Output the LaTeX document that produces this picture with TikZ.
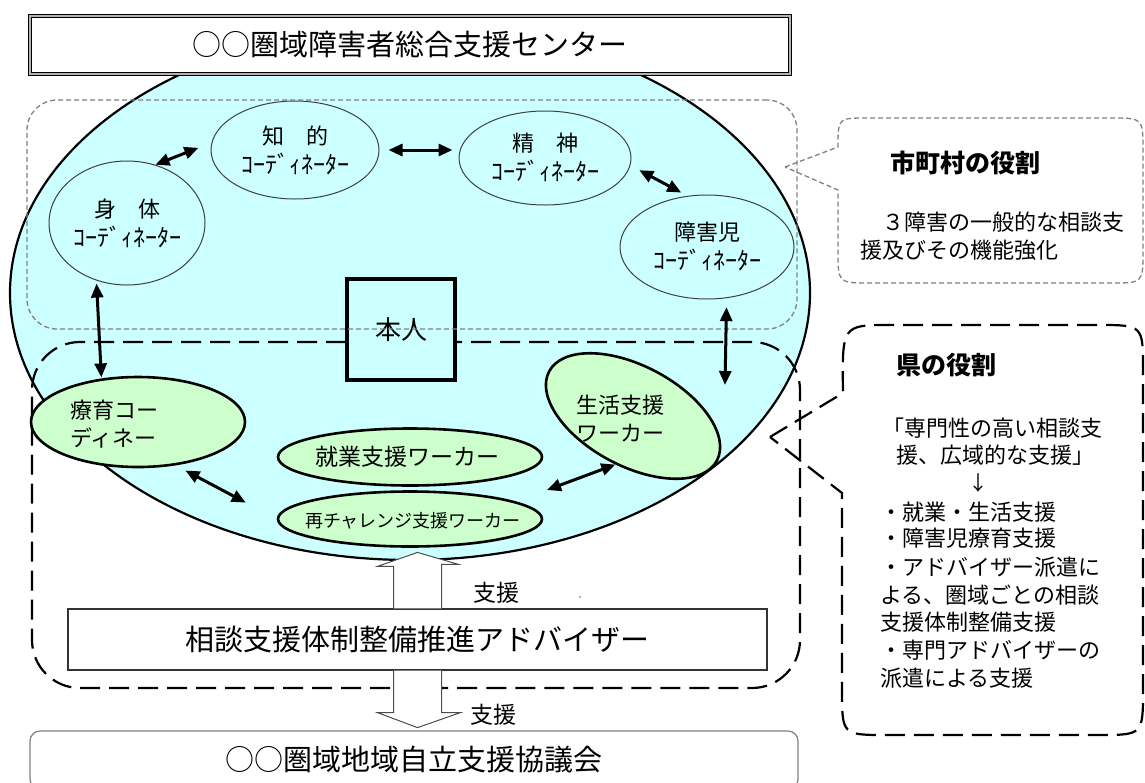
\documentclass[tikz,border=0pt]{standalone}
\usepackage{fontspec}
\setmainfont{Noto Sans CJK JP}
\usetikzlibrary{arrows.meta,shapes.geometric,calc}
\definecolor{bgcyan}{HTML}{CCFFFF}
\definecolor{lgreen}{HTML}{CCFFCC}
\definecolor{dgray}{HTML}{808080}
\newcommand{\jsz}[2]{\fontsize{#1pt}{#2pt}\selectfont}
\newcommand{\kata}{{\jsz{24}{29}ｺｰﾃﾞｨﾈｰﾀｰ}}
\begin{document}
\begin{tikzpicture}[x=1pt,y=-1pt,
  coordell/.style={ellipse, draw=black!75, line width=1pt, fill=bgcyan, inner sep=0pt, align=center, font=\jsz{22}{29}},
  greenell/.style={ellipse, draw=black, line width=2.6pt, fill=lgreen, inner sep=0pt},
  txt/.style={inner sep=0pt, font=\jsz{22}{28}},
  boldtxt/.style={inner sep=0pt, font=\jsz{25}{25}\bfseries},
  dblarrow/.style={{Triangle[length=14pt,width=12pt]}-{Triangle[length=14pt,width=12pt]}, line width=3pt},
  graydash/.style={draw=dgray, line width=1.3pt, dash pattern=on 5pt off 3pt},
  blackdash/.style={draw=black, line width=2.2pt, dash pattern=on 20pt off 9pt},
  blockarrow/.style={draw=black!70, line width=1pt, fill=white, line join=miter},
]
\useasboundingbox (0,0) rectangle (1145,782);

% central hub ellipse
\node[ellipse, draw=black, line width=2.2pt, fill=bgcyan, minimum width=800pt, minimum height=534pt, inner sep=0pt] (hub) at (410,293) {};

% title
\node[draw=black, double=dgray!60, double distance=1.5pt, line width=0.9pt, fill=white,
      minimum width=760pt, minimum height=58pt, inner sep=0pt, font=\jsz{29}{29}] (title) at (410,45) {○○圏域障害者総合支援センター};

% coordinators
\node[coordell, minimum width=168pt, minimum height=98pt] (chiteki) at (295,150) {知　的\\\kata};
\node[coordell, minimum width=156pt, minimum height=124pt] (shintai) at (127,223) {身　体\\\kata};
\node[coordell, minimum width=172pt, minimum height=94pt] (seishin) at (545,158) {精　神\\\kata};
\node[coordell, minimum width=174pt, minimum height=104pt] (shogaiji) at (707,247) {障害児\\\kata};

% prefecture zone (black dashed)
\node[blackdash, rounded corners=48pt, minimum width=768pt, minimum height=346pt, inner sep=0pt] (prefzone) at (416,515) {};

% person box
\node[draw=black, line width=4pt, fill=bgcyan, minimum width=108pt, minimum height=101pt, inner sep=0pt, font=\jsz{26}{26}] (honnin) at (401,329.5) {本人};

% municipal zone (gray dashed)
\node[graydash, rounded corners=30pt, minimum width=770pt, minimum height=229pt, inner sep=0pt] (cityzone) at (412,214.5) {};

% green workers
\node[greenell, minimum width=214pt, minimum height=90pt] (ryoiku) at (138,422) {};
\node[txt, anchor=west, align=left] (ryoikut) at (70,424) {療育コー\\ディネー};
\node[greenell, minimum width=264pt, minimum height=57pt] (shugyo) at (410,457) {};
\node[txt, font=\jsz{23}{23}] (shugyot) at (407,457) {就業支援ワーカー};
\node[greenell, minimum width=264pt, minimum height=55pt] (saichallenge) at (410,519) {};
\node[txt, font=\jsz{18}{18}] (saichallenget) at (413,521) {再チャレンジ支援ワーカー};
\node[greenell, minimum width=190pt, minimum height=100pt, rotate=-28] (seikatsu) at (633,416) {};
\node[txt, anchor=west, align=left] (seikatsut) at (576,419) {生活支援\\ワーカー};

% double arrows
\coordinate (e5) at (725,385);
\coordinate (s7) at (547,490);
\draw[dblarrow, shorten >=14pt] (shintai.64) -- (chiteki.175);
\draw[dblarrow, shorten <=9pt, shorten >=6pt] (chiteki.east) -- (chiteki.east -| seishin.west);
\draw[dblarrow, shorten <=10pt, shorten >=7pt] (seishin.355) -- (shogaiji.111);
\draw[dblarrow, shorten <=3pt, shorten >=1pt] (shintai.242) -- (ryoiku.130);
\draw[dblarrow, shorten <=9pt] (shogaiji.291) -- (e5);
\draw[dblarrow, shorten <=11pt, shorten >=35pt] (ryoiku.311) -- (saichallenge.180);
\draw[dblarrow] (s7) -- (seikatsu.278);

% advisor and council
\node[draw=black!80, line width=1.2pt, fill=white, minimum width=699pt, minimum height=61pt, inner sep=0pt, font=\jsz{29}{29}] (advisor) at (417.5,639.5) {相談支援体制整備推進アドバイザー};
\node[draw=dgray, line width=1.2pt, fill=white, rounded corners=10pt, minimum width=768pt, minimum height=58pt, inner sep=0pt, font=\jsz{29}{29}] (council) at (414,760) {○○圏域地域自立支援協議会};

% block arrows
\draw[blockarrow] ($(advisor.north)+(-24,0)$) -- ++(0,-42) -- ++(-16,0) -- ($(advisor.north)+(0,-56)$) -- ($(advisor.north)+(41,-44)$) -- ($(advisor.north)+(24,-44)$) -- ($(advisor.north)+(24,0)$);
\draw[blockarrow] ($(advisor.south)+(-24,0)$) -- ++(0,42) -- ++(-16,0) -- ($(advisor.south)+(0,57)$) -- ($(advisor.south)+(43,42)$) -- ($(advisor.south)+(24,42)$) -- ($(advisor.south)+(24,0)$);
\node[txt, font=\jsz{23}{23}] (shien1) at (496,593) {支援};
\node[txt, font=\jsz{23}{23}] (shien2) at (493,715) {支援};
\fill[black!60] (580,597) circle (0.9pt);

% callout 1 (municipal role)
\draw[graydash] (785,167) -- (838,147) .. controls (838,118) .. (867,118) -- (1111,118) .. controls (1143,118) .. (1143,150) -- (1143,251) .. controls (1143,283) .. (1111,283) -- (870,283) .. controls (838,283) .. (838,251) -- (838,190) -- cycle;
\node[boldtxt] (cityrole) at (965,163) {市町村の役割};
\node[txt, anchor=west] (city1) at (860,222) {　３障害の一般的な相談支};
\node[txt, anchor=west] (city2) at (860,250) {援及びその機能強化};

% callout 2 (prefecture role)
\draw[blackdash] (770,437) -- (843,393) .. controls (842,325) .. (890,325) -- (1098,325) .. controls (1143,325) .. (1143,370) -- (1143,690) .. controls (1143,735) .. (1098,735) -- (887,735) .. controls (842,735) .. (842,690) -- (842,493) -- cycle;
\node[boldtxt] (prefrole) at (946,365) {県の役割};
\node[txt] (pref1) at (992,428) {「専門性の高い相談支};
\node[txt] (pref2) at (995,455) {援、広域的な支援」};
\node[txt, font=\jsz{20}{20}] (prefarrow) at (978,483) {↓};
\node[txt, anchor=west] (pl1) at (880,512) {・就業・生活支援};
\node[txt, anchor=west] (pl2) at (880,538) {・障害児療育支援};
\node[txt, anchor=west] (pl3) at (880,567) {・アドバイザー派遣に};
\node[txt, anchor=west] (pl4) at (880,595) {よる、圏域ごとの相談};
\node[txt, anchor=west] (pl5) at (880,622) {支援体制整備支援};
\node[txt, anchor=west] (pl6) at (880,650) {・専門アドバイザーの};
\node[txt, anchor=west] (pl7) at (880,678) {派遣による支援};
\end{tikzpicture}
\end{document}
